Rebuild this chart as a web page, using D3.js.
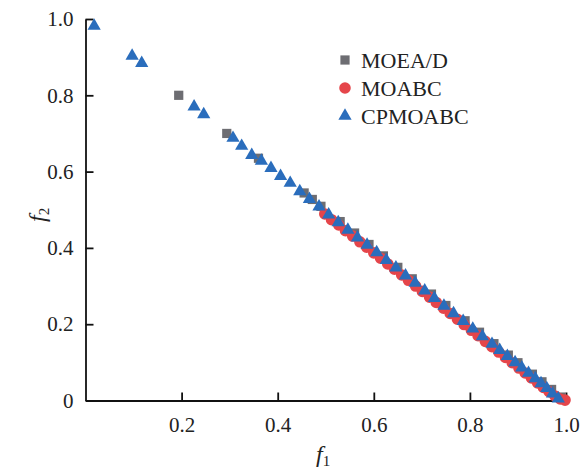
<!DOCTYPE html>
<html>
<head>
<meta charset="utf-8">
<script src="https://cdn.jsdelivr.net/npm/d3@7"></script>
<style>
    body { margin: 0; background: #fff; }
    text { font-family: "Liberation Serif", "Times New Roman", serif; fill: #222; }
</style>
</head>
<body>
<div id="chart"></div>
<script>
// series values
const moeadF1 = [0.194, 0.294, 0.360, 0.455, 0.472, 0.490, 0.530, 0.560, 0.590, 0.620, 0.650, 0.680,
    0.720, 0.750, 0.790, 0.820, 0.850, 0.880, 0.900, 0.930, 0.950, 0.970, 0.990];
const moeadF2 = [0.800, 0.700, 0.635, 0.544, 0.527, 0.509, 0.469, 0.439, 0.409, 0.379, 0.349, 0.319,
    0.279, 0.249, 0.209, 0.179, 0.149, 0.119, 0.099, 0.069, 0.049, 0.029, 0.009];

const moabcF1 = [0.498, 0.512, 0.527, 0.541, 0.556, 0.571, 0.585, 0.600, 0.614, 0.629, 0.643, 0.658,
    0.672, 0.687, 0.701, 0.716, 0.730, 0.745, 0.759, 0.774, 0.788, 0.803, 0.817, 0.832, 0.846, 0.860,
    0.874, 0.888, 0.902, 0.915, 0.928, 0.941, 0.953, 0.965, 0.977, 0.988, 0.998];
const moabcF2 = [0.489, 0.474, 0.460, 0.445, 0.431, 0.416, 0.402, 0.387, 0.373, 0.358, 0.344, 0.329,
    0.315, 0.300, 0.286, 0.271, 0.257, 0.242, 0.228, 0.213, 0.199, 0.184, 0.170, 0.155, 0.141, 0.127,
    0.113, 0.099, 0.085, 0.072, 0.059, 0.046, 0.034, 0.023, 0.012, 0.004, 0.001];

const cpmoabcF1 = [0.018, 0.097, 0.117, 0.226, 0.246, 0.307, 0.325, 0.346, 0.366, 0.386, 0.406, 0.426,
    0.446, 0.466, 0.486, 0.506, 0.526, 0.546, 0.566, 0.586, 0.606, 0.626, 0.646, 0.666, 0.686, 0.706,
    0.726, 0.746, 0.766, 0.786, 0.806, 0.826, 0.846, 0.862, 0.878, 0.894, 0.908, 0.922, 0.936, 0.948,
    0.960, 0.972, 0.984];
const cpmoabcF2 = [0.982, 0.903, 0.884, 0.770, 0.750, 0.688, 0.667, 0.643, 0.628, 0.609, 0.588, 0.570,
    0.548, 0.528, 0.508, 0.487, 0.467, 0.447, 0.427, 0.408, 0.388, 0.368, 0.348, 0.327, 0.308, 0.288,
    0.268, 0.248, 0.228, 0.208, 0.188, 0.168, 0.148, 0.132, 0.116, 0.100, 0.086, 0.072, 0.058, 0.045,
    0.032, 0.018, 0.005];

const seriesNames = ['MOEA/D', 'MOABC', 'CPMOABC'];
const xTicks = [0.2, 0.4, 0.6, 0.8, 1.0];
const yTicks = [0, 0.2, 0.4, 0.6, 0.8, 1.0];

const width = 583, height = 473;
const margin = { top: 19, right: 17, bottom: 72.5, left: 85.5 };

const svg = d3.select('#chart').append('svg')
    .attr('width', width)
    .attr('height', height);

const x = d3.scaleLinear().domain([0, 1]).range([margin.left, width - margin.right]);
const y = d3.scaleLinear().domain([0, 1]).range([height - margin.bottom, margin.top]);

const series = [
    { name: seriesNames[0], f1: moeadF1, f2: moeadF2, type: d3.symbolSquare, size: 85, color: '#6d6d72' },
    { name: seriesNames[1], f1: moabcF1, f2: moabcF2, type: d3.symbolCircle, size: 105, color: '#e5454a' },
    { name: seriesNames[2], f1: cpmoabcF1, f2: cpmoabcF2, type: d3.symbolTriangle, size: 76, color: '#2a6dbc' }
];

// axes
const xAxis = svg.append('g')
    .attr('transform', `translate(0,${y(0)})`)
    .call(d3.axisBottom(x).tickValues(xTicks).tickFormat(d3.format('.1f'))
        .tickSizeInner(-8).tickSizeOuter(0).tickPadding(17));

const yAxis = svg.append('g')
    .attr('transform', `translate(${x(0)},0)`)
    .call(d3.axisLeft(y).tickValues(yTicks).tickFormat(d => d === 0 ? '0' : d3.format('.1f')(d))
        .tickSizeInner(-8).tickSizeOuter(0).tickPadding(12));

[xAxis, yAxis].forEach(g => {
    g.select('.domain').attr('stroke', '#111').attr('stroke-width', 1.8);
    g.selectAll('.tick line').attr('stroke', '#111').attr('stroke-width', 1.8);
    g.selectAll('.tick text')
        .attr('fill', '#222')
        .style('font-family', '"Liberation Serif", serif')
        .style('font-size', '21px');
});

// points
series.forEach(s => {
    const sym = d3.symbol().type(s.type).size(s.size);
    svg.append('g')
        .selectAll('path')
        .data(s.f1.map((v, i) => [v, s.f2[i]]))
        .enter()
        .append('path')
        .attr('d', sym)
        .attr('transform', d => `translate(${x(d[0])},${y(d[1])})`)
        .attr('fill', s.color);
});

// legend
const legend = svg.append('g').attr('transform', 'translate(345,60)');
series.forEach((s, i) => {
    legend.append('path')
        .attr('d', d3.symbol().type(s.type).size(s.size)())
        .attr('transform', `translate(0,${i * 28})`)
        .attr('fill', s.color);
    legend.append('text')
        .attr('x', 16)
        .attr('y', i * 28)
        .attr('dy', '0.35em')
        .style('font-size', '22px')
        .text(s.name);
});

// axis titles
const xTitle = svg.append('text')
    .attr('x', 316)
    .attr('y', 462)
    .style('font-size', '24px');
xTitle.append('tspan').style('font-style', 'italic').text('f');
xTitle.append('tspan').attr('dy', 4).style('font-size', '15px').text('1');

const yTitle = svg.append('text')
    .attr('transform', 'translate(45,222) rotate(-90)')
    .style('font-size', '24px');
yTitle.append('tspan').style('font-style', 'italic').text('f');
yTitle.append('tspan').attr('dy', 4).style('font-size', '15px').text('2');
</script>
</body>
</html>
